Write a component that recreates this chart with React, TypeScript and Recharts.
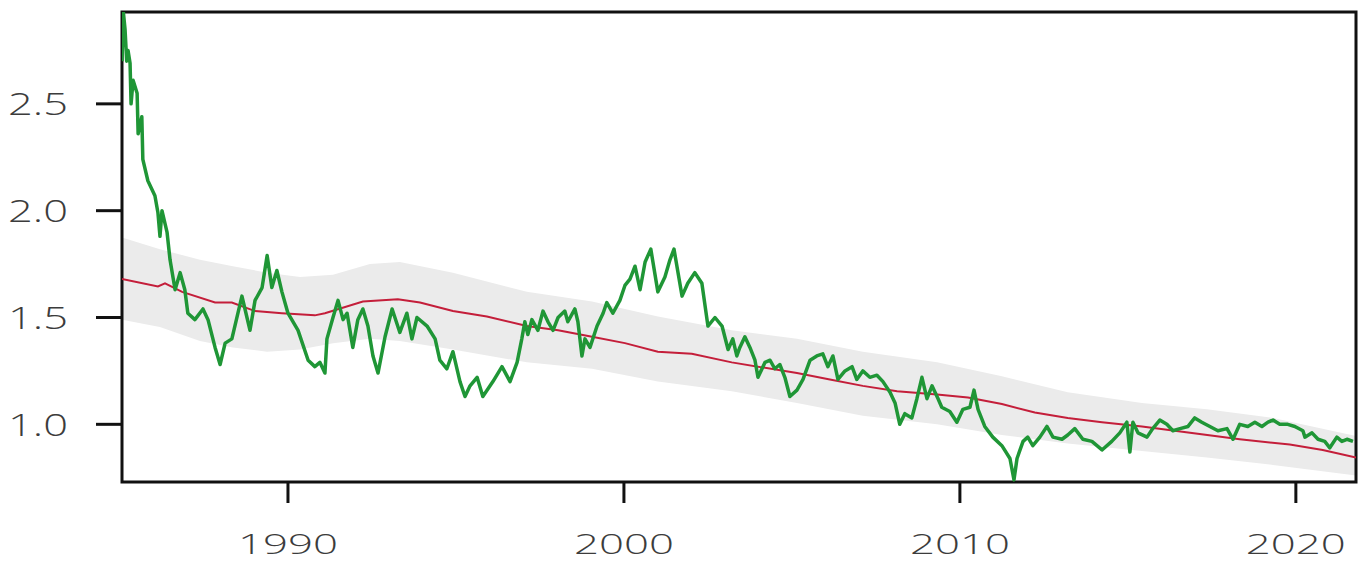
import React from "react";
import { ComposedChart, Line, Area, XAxis, YAxis, ReferenceArea } from "recharts";

const greenYears = [
  1985.06, 1985.10, 1985.15, 1985.20, 1985.24, 1985.30, 1985.33, 1985.39, 1985.51, 1985.54,
  1985.65, 1985.68, 1985.83, 1986.04, 1986.13, 1986.19, 1986.25, 1986.40, 1986.49, 1986.64,
  1986.79, 1986.93, 1987.02, 1987.23, 1987.47, 1987.62, 1987.83, 1987.98, 1988.13, 1988.33,
  1988.63, 1988.78, 1988.87, 1989.02, 1989.23, 1989.38, 1989.52, 1989.67, 1989.82, 1990.00,
  1990.30, 1990.60, 1990.80, 1990.95, 1991.10, 1991.16, 1991.34, 1991.49, 1991.64, 1991.76,
  1991.93, 1992.08, 1992.23, 1992.38, 1992.53, 1992.68, 1992.89, 1993.10, 1993.33, 1993.54,
  1993.69, 1993.84, 1994.14, 1994.38, 1994.52, 1994.73, 1994.91, 1995.12, 1995.27, 1995.42,
  1995.63, 1995.80, 1996.10, 1996.37, 1996.61, 1996.82, 1996.96, 1997.05, 1997.14, 1997.26,
  1997.44, 1997.59, 1997.74, 1997.89, 1998.04, 1998.24, 1998.33, 1998.54, 1998.63, 1998.75,
  1998.84, 1998.99, 1999.20, 1999.38, 1999.49, 1999.67, 1999.88, 2000.03, 2000.18, 2000.33,
  2000.48, 2000.63, 2000.80, 2001.01, 2001.22, 2001.37, 2001.49, 2001.73, 2001.90, 2002.11,
  2002.32, 2002.50, 2002.71, 2002.92, 2003.10, 2003.24, 2003.36, 2003.45, 2003.60, 2003.75,
  2003.90, 2003.99, 2004.20, 2004.35, 2004.49, 2004.64, 2004.79, 2004.94, 2005.15, 2005.33,
  2005.54, 2005.74, 2005.92, 2006.07, 2006.22, 2006.37, 2006.58, 2006.79, 2006.93, 2007.11,
  2007.32, 2007.53, 2007.71, 2007.92, 2008.07, 2008.21, 2008.36, 2008.57, 2008.72, 2008.87,
  2009.02, 2009.17, 2009.35, 2009.46, 2009.70, 2009.91, 2010.09, 2010.30, 2010.42, 2010.54,
  2010.74, 2010.98, 2011.25, 2011.49, 2011.61, 2011.70, 2011.88, 2012.02, 2012.17, 2012.38,
  2012.59, 2012.77, 2013.04, 2013.21, 2013.42, 2013.66, 2013.93, 2014.23, 2014.52, 2014.76,
  2014.97, 2015.06, 2015.15, 2015.30, 2015.57, 2015.74, 2015.95, 2016.16, 2016.34, 2016.55,
  2016.79, 2016.99, 2017.20, 2017.44, 2017.68, 2017.95, 2018.13, 2018.33, 2018.57, 2018.78,
  2018.99, 2019.17, 2019.32, 2019.52, 2019.76, 2019.97, 2020.21, 2020.27, 2020.48, 2020.66,
  2020.86, 2021.01, 2021.22, 2021.37, 2021.52, 2021.70,
];

const greenValues = [
  2.70, 2.93, 2.85, 2.70, 2.75, 2.69, 2.50, 2.61, 2.55, 2.36,
  2.44, 2.24, 2.14, 2.07, 1.99, 1.88, 2.00, 1.90, 1.77, 1.63,
  1.71, 1.63, 1.52, 1.49, 1.54, 1.49, 1.36, 1.28, 1.38, 1.40,
  1.60, 1.50, 1.44, 1.58, 1.64, 1.79, 1.64, 1.72, 1.62, 1.52,
  1.44, 1.30, 1.27, 1.29, 1.24, 1.40, 1.50, 1.58, 1.49, 1.52,
  1.36, 1.49, 1.54, 1.46, 1.32, 1.24, 1.41, 1.54, 1.43, 1.52,
  1.40, 1.50, 1.46, 1.40, 1.30, 1.26, 1.34, 1.20, 1.13, 1.18,
  1.22, 1.13, 1.20, 1.27, 1.20, 1.29, 1.40, 1.48, 1.42, 1.49,
  1.44, 1.53, 1.48, 1.44, 1.50, 1.53, 1.48, 1.54, 1.48, 1.32,
  1.40, 1.36, 1.46, 1.52, 1.57, 1.52, 1.58, 1.65, 1.68, 1.74,
  1.63, 1.76, 1.82, 1.62, 1.69, 1.77, 1.82, 1.60, 1.66, 1.71,
  1.66, 1.46, 1.50, 1.46, 1.35, 1.40, 1.32, 1.36, 1.41, 1.36,
  1.30, 1.22, 1.29, 1.30, 1.26, 1.28, 1.22, 1.13, 1.16, 1.21,
  1.30, 1.32, 1.33, 1.27, 1.32, 1.21, 1.25, 1.27, 1.21, 1.25,
  1.22, 1.23, 1.20, 1.15, 1.10, 1.00, 1.05, 1.03, 1.12, 1.22,
  1.12, 1.18, 1.12, 1.08, 1.06, 1.01, 1.07, 1.08, 1.16, 1.07,
  0.99, 0.94, 0.90, 0.84, 0.74, 0.84, 0.92, 0.94, 0.90, 0.94,
  0.99, 0.94, 0.93, 0.95, 0.98, 0.93, 0.92, 0.88, 0.92, 0.96,
  1.01, 0.87, 1.01, 0.96, 0.94, 0.98, 1.02, 1.00, 0.97, 0.98,
  0.99, 1.03, 1.01, 0.99, 0.97, 0.98, 0.93, 1.00, 0.99, 1.01,
  0.99, 1.01, 1.02, 1.00, 1.00, 0.99, 0.97, 0.94, 0.96, 0.93,
  0.92, 0.89, 0.94, 0.92, 0.93, 0.92,
];

const trendYears = [
  1985.06, 1986.13, 1986.34, 1986.85, 1987.83, 1988.33, 1989.02, 1989.82, 1990.80, 1991.10,
  1992.23, 1993.27, 1993.93, 1994.91, 1995.92, 1997.11, 1998.04, 1999.05, 2000.03, 2001.01,
  2002.02, 2003.21, 2005.15, 2006.13, 2007.11, 2008.13, 2009.32, 2010.24, 2011.25, 2012.23,
  2013.21, 2014.23, 2015.42, 2016.85, 2018.33, 2019.82, 2020.80, 2021.79,
];
const trendValues = [
  1.68, 1.645, 1.66, 1.62, 1.57, 1.57, 1.53, 1.52, 1.51, 1.52,
  1.575, 1.585, 1.57, 1.53, 1.505, 1.46, 1.44, 1.41, 1.38, 1.34,
  1.33, 1.29, 1.24, 1.21, 1.18, 1.155, 1.14, 1.125, 1.095, 1.055,
  1.03, 1.01, 0.99, 0.96, 0.93, 0.905, 0.88, 0.845,
];

const bandYears = [
  1985.06, 1986.19, 1987.38, 1988.36, 1989.38, 1990.36, 1991.34, 1992.44, 1993.33, 1994.91,
  1997.11, 1999.05, 2001.01, 2003.21, 2005.15, 2007.11, 2009.32, 2011.25, 2013.21, 2015.42,
  2017.35, 2019.32, 2021.79,
];
const bandLow = [
  1.49, 1.455, 1.39, 1.36, 1.34, 1.35, 1.38, 1.40, 1.39, 1.35,
  1.29, 1.26, 1.20, 1.155, 1.10, 1.04, 1.00, 0.95, 0.91, 0.875,
  0.845, 0.81, 0.76,
];
const bandHigh = [
  1.875, 1.82, 1.77, 1.74, 1.71, 1.69, 1.70, 1.75, 1.76, 1.71,
  1.62, 1.575, 1.505, 1.44, 1.40, 1.34, 1.29, 1.225, 1.15, 1.10,
  1.07, 1.03, 0.945,
];

const xTicks = [1990, 2000, 2010, 2020];
const yTicks = [1.0, 1.5, 2.0, 2.5];

const X_DOMAIN: [number, number] = [1985.06, 2021.79];
const Y_DOMAIN: [number, number] = [0.73, 2.93];

const greenData = greenYears.map((x, i) => ({ x, v: greenValues[i] }));
const trendData = trendYears.map((x, i) => ({ x, v: trendValues[i] }));
const bandData = bandYears.map((x, i) => ({ x, range: [bandLow[i], bandHigh[i]] }));

const LABEL_FONT = "'Open Sans', 'DejaVu Sans', sans-serif";

function textWidth(s: string) {
  let w = 0;
  for (const c of s) w += c === "." ? 10 : 25;
  return w;
}

const XTick = (props: any) => {
  const { x, y, payload } = props;
  const s = String(payload.value);
  return (
    <text
      x={x}
      y={y}
      dy={20}
      textAnchor="middle"
      fill="#3c3c3c"
      fontSize={28}
      fontFamily={LABEL_FONT}
      fontWeight={300}
      textLength={textWidth(s)}
      lengthAdjust="spacingAndGlyphs"
    >
      {s}
    </text>
  );
};

const YTick = (props: any) => {
  const { x, y, payload } = props;
  const s = Number(payload.value).toFixed(1);
  return (
    <text
      x={x}
      y={y}
      dy={11.5}
      textAnchor="end"
      fill="#3c3c3c"
      fontSize={32}
      fontFamily={LABEL_FONT}
      fontWeight={300}
      textLength={textWidth(s)}
      lengthAdjust="spacingAndGlyphs"
    >
      {s}
    </text>
  );
};

export default function App() {
  return (
    <div style={{ position: "absolute", left: 0, top: 0, background: "#fff" }}>
      <ComposedChart width={1362} height={564} margin={{ top: 12, right: 6, bottom: 0, left: 0 }}>
        <XAxis
          type="number"
          dataKey="x"
          domain={X_DOMAIN}
          ticks={xTicks}
          allowDataOverflow
          height={82}
          axisLine={false}
          tickLine={{ stroke: "#111", strokeWidth: 3 }}
          tickSize={21}
          tickMargin={31}
          tick={<XTick />}
          interval={0}
        />
        <YAxis
          type="number"
          domain={Y_DOMAIN}
          ticks={yTicks}
          allowDataOverflow
          width={122}
          axisLine={false}
          tickLine={{ stroke: "#111", strokeWidth: 3 }}
          tickSize={26}
          tickMargin={28}
          tick={<YTick />}
          interval={0}
        />
        <Area
          data={bandData}
          dataKey="range"
          type="linear"
          stroke="none"
          fill="#ebebeb"
          fillOpacity={1}
          isAnimationActive={false}
          activeDot={false}
        />
        <Line
          data={trendData}
          dataKey="v"
          type="linear"
          stroke="#c41e3a"
          strokeWidth={2}
          dot={false}
          activeDot={false}
          isAnimationActive={false}
        />
        <Line
          data={greenData}
          dataKey="v"
          type="linear"
          stroke="#1f9636"
          strokeWidth={3.5}
          strokeLinejoin="round"
          dot={false}
          activeDot={false}
          isAnimationActive={false}
        />
        <ReferenceArea
          x1={X_DOMAIN[0]}
          x2={X_DOMAIN[1]}
          y1={Y_DOMAIN[0]}
          y2={Y_DOMAIN[1]}
          fill="none"
          stroke="#111"
          strokeWidth={3}
          ifOverflow="visible"
        />
      </ComposedChart>
    </div>
  );
}
